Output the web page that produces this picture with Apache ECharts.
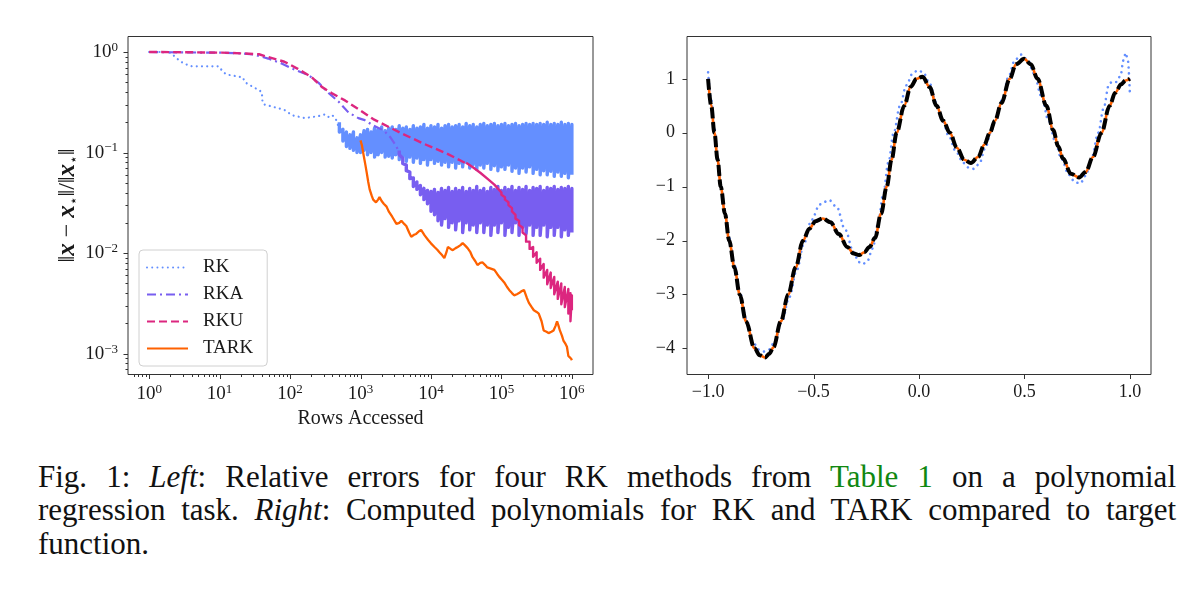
<!DOCTYPE html>
<html>
<head>
<meta charset="utf-8">
<script src="https://cdn.jsdelivr.net/npm/echarts/dist/echarts.min.js"></script>
<style>
  html, body { margin: 0; padding: 0; background: #fff; }
  #chart { position: absolute; left: 0; top: 0; width: 1200px; height: 440px; }
  #caption { position: absolute; left: 38px; top: 460px; width: 1138px;
    font-family: "Liberation Serif", "DejaVu Serif", serif; font-size: 31px; line-height: 33.3px; color: #111; }
  #caption .l { white-space: nowrap; }
  #caption .j { text-align: justify; text-align-last: justify; white-space: normal; }
  #caption .ref { color: #118811; }
</style>
</head>
<body>
<div id="chart"></div>
<div id="caption">
  <div class="l j">Fig. 1: <i>Left</i>: Relative errors for four RK methods from <span class="ref">Table 1</span> on a polynomial</div>
  <div class="l j">regression task. <i>Right</i>: Computed polynomials for RK and TARK compared to target</div>
  <div class="l">function.</div>
</div>
<script>
// ---- left panel: relative error vs rows accessed (rows stored as log10) ----
const rkLogRows = [0, 0.28, 0.33, 0.37, 0.45, 0.55, 0.61, 0.80, 0.99, 1.03, 1.09, 1.20, 1.33, 1.36, 1.45, 1.55, 1.60, 1.61, 1.64, 1.80, 1.92, 2.03, 2.21, 2.30, 2.40, 2.50, 2.55, 2.60, 2.65, 2.69];
const rkErr = [1.0, 1.0, 0.95, 0.89, 0.80, 0.74, 0.72, 0.72, 0.72, 0.66, 0.60, 0.58, 0.56, 0.50, 0.46, 0.42, 0.40, 0.31, 0.30, 0.28, 0.265, 0.235, 0.22, 0.225, 0.23, 0.24, 0.225, 0.235, 0.215, 0.18];

// noisy plateau of RK: top / bottom of the band at each sample
const rkBandLogRows = [2.70, 2.75, 2.80, 2.85, 2.90, 2.95, 3.00, 3.05, 3.10, 3.15, 3.20, 3.25, 3.30, 3.35, 3.40, 3.45, 3.50, 3.55, 3.60, 3.65, 3.70, 3.75, 3.80, 3.85, 3.90, 3.95, 4.00, 4.05, 4.10, 4.15, 4.20, 4.25, 4.30, 4.35, 4.40, 4.45, 4.50, 4.55, 4.60, 4.65, 4.70, 4.75, 4.80, 4.85, 4.90, 4.95, 5.00, 5.05, 5.10, 5.15, 5.20, 5.25, 5.30, 5.35, 5.40, 5.45, 5.50, 5.55, 5.60, 5.65, 5.70, 5.75, 5.80, 5.85, 5.90, 5.95, 6.00];
const rkBandHigh = [0.20, 0.17, 0.16, 0.15, 0.16, 0.14, 0.15, 0.165, 0.17, 0.16, 0.175, 0.17, 0.18, 0.165, 0.175, 0.18, 0.17, 0.185, 0.175, 0.18, 0.17, 0.185, 0.175, 0.18, 0.19, 0.175, 0.185, 0.18, 0.19, 0.175, 0.185, 0.19, 0.18, 0.185, 0.19, 0.18, 0.195, 0.185, 0.19, 0.18, 0.19, 0.195, 0.185, 0.19, 0.195, 0.185, 0.19, 0.195, 0.185, 0.19, 0.195, 0.185, 0.19, 0.195, 0.19, 0.195, 0.19, 0.195, 0.19, 0.20, 0.19, 0.195, 0.19, 0.20, 0.19, 0.195, 0.19];
const rkBandLow = [0.16, 0.13, 0.115, 0.11, 0.105, 0.10, 0.10, 0.105, 0.095, 0.10, 0.09, 0.095, 0.10, 0.09, 0.092, 0.088, 0.095, 0.085, 0.09, 0.082, 0.09, 0.08, 0.088, 0.078, 0.085, 0.075, 0.085, 0.078, 0.082, 0.075, 0.08, 0.072, 0.08, 0.07, 0.078, 0.072, 0.08, 0.07, 0.076, 0.068, 0.075, 0.07, 0.078, 0.068, 0.074, 0.066, 0.072, 0.068, 0.075, 0.065, 0.07, 0.062, 0.07, 0.064, 0.072, 0.062, 0.068, 0.06, 0.066, 0.06, 0.065, 0.058, 0.064, 0.058, 0.062, 0.056, 0.06];

const rkaLogRows = [0, 0.5, 1.0, 1.3, 1.5, 1.69, 1.88, 2.06, 2.26, 2.41, 2.55, 2.69, 2.83, 2.97, 3.06, 3.18, 3.33, 3.42, 3.50, 3.55];
const rkaErr = [1.0, 0.99, 0.985, 0.97, 0.94, 0.86, 0.77, 0.67, 0.59, 0.49, 0.39, 0.32, 0.25, 0.22, 0.21, 0.186, 0.166, 0.143, 0.118, 0.10];

const rkaBandLogRows = [3.55, 3.60, 3.65, 3.70, 3.75, 3.80, 3.85, 3.90, 3.95, 4.00, 4.05, 4.10, 4.15, 4.20, 4.25, 4.30, 4.35, 4.40, 4.45, 4.50, 4.55, 4.60, 4.65, 4.70, 4.75, 4.80, 4.85, 4.90, 4.95, 5.00, 5.05, 5.10, 5.15, 5.20, 5.25, 5.30, 5.35, 5.40, 5.45, 5.50, 5.55, 5.60, 5.65, 5.70, 5.75, 5.80, 5.85, 5.90, 5.95, 6.00];
const rkaBandHigh = [0.105, 0.088, 0.075, 0.064, 0.056, 0.051, 0.047, 0.044, 0.042, 0.041, 0.043, 0.040, 0.044, 0.042, 0.045, 0.041, 0.044, 0.042, 0.045, 0.041, 0.044, 0.042, 0.046, 0.042, 0.044, 0.041, 0.045, 0.043, 0.046, 0.042, 0.045, 0.043, 0.046, 0.042, 0.045, 0.043, 0.046, 0.042, 0.045, 0.044, 0.046, 0.042, 0.045, 0.044, 0.046, 0.043, 0.045, 0.044, 0.046, 0.044];
const rkaBandLow = [0.095, 0.078, 0.066, 0.055, 0.046, 0.043, 0.038, 0.034, 0.031, 0.026, 0.024, 0.021, 0.019, 0.022, 0.018, 0.020, 0.017, 0.021, 0.016, 0.020, 0.017, 0.019, 0.016, 0.020, 0.016, 0.019, 0.015, 0.019, 0.016, 0.020, 0.015, 0.018, 0.016, 0.020, 0.015, 0.018, 0.0155, 0.019, 0.015, 0.018, 0.015, 0.019, 0.0145, 0.018, 0.015, 0.018, 0.0145, 0.017, 0.015, 0.016];

const rkuLogRows = [0, 0.5, 1.03, 1.30, 1.56, 1.69, 1.92, 2.11, 2.31, 2.45, 2.59, 2.78, 2.97, 3.18, 3.56, 3.89, 4.22, 4.50];
const rkuErr = [1.0, 0.995, 0.985, 0.97, 0.95, 0.89, 0.80, 0.68, 0.56, 0.45, 0.39, 0.33, 0.27, 0.215, 0.158, 0.123, 0.098, 0.078];

const rkuTailLogRows = [4.50, 4.60, 4.70, 4.80, 4.90, 5.00, 5.05, 5.10, 5.15, 5.20, 5.25, 5.30, 5.35, 5.40, 5.45, 5.50, 5.55, 5.60, 5.65, 5.70, 5.75, 5.80, 5.85, 5.90, 5.95, 5.98, 6.00];
const rkuTailHigh = [0.079, 0.071, 0.063, 0.055, 0.048, 0.040, 0.036, 0.032, 0.028, 0.024, 0.021, 0.018, 0.015, 0.013, 0.0115, 0.0102, 0.0088, 0.0078, 0.0068, 0.0064, 0.0058, 0.0052, 0.0050, 0.0046, 0.0044, 0.0040, 0.0038];
const rkuTailLow = [0.077, 0.069, 0.061, 0.053, 0.046, 0.038, 0.034, 0.030, 0.026, 0.022, 0.019, 0.016, 0.013, 0.011, 0.0092, 0.0080, 0.0068, 0.0057, 0.0049, 0.0045, 0.0039, 0.0035, 0.0031, 0.0029, 0.0025, 0.0021, 0.0027];

const tarkLogRows = [3.00, 3.02, 3.04, 3.07, 3.09, 3.11, 3.13, 3.16, 3.18, 3.22, 3.25, 3.27, 3.30, 3.33, 3.37, 3.40, 3.45, 3.51, 3.55, 3.58, 3.62, 3.65, 3.69, 3.72, 3.76, 3.79, 3.83, 3.86, 3.91, 3.96, 4.00, 4.05, 4.09, 4.12, 4.16, 4.19, 4.22, 4.24, 4.28, 4.31, 4.35, 4.38, 4.42, 4.45, 4.49, 4.52, 4.56, 4.59, 4.63, 4.66, 4.70, 4.73, 4.77, 4.80, 4.85, 4.90, 4.94, 4.97, 5.01, 5.04, 5.08, 5.11, 5.15, 5.18, 5.22, 5.25, 5.29, 5.32, 5.36, 5.39, 5.43, 5.46, 5.50, 5.53, 5.57, 5.60, 5.64, 5.67, 5.71, 5.74, 5.77, 5.79, 5.81, 5.83, 5.86, 5.88, 5.91, 5.93, 5.95, 5.97, 5.99, 6.00];
const tarkErr = [0.132, 0.118, 0.098, 0.075, 0.062, 0.051, 0.043, 0.037, 0.034, 0.032, 0.034, 0.036, 0.033, 0.031, 0.029, 0.026, 0.023, 0.0195, 0.020, 0.021, 0.0195, 0.0186, 0.016, 0.0145, 0.0152, 0.0155, 0.0165, 0.017, 0.015, 0.0135, 0.0125, 0.0115, 0.0108, 0.0102, 0.0095, 0.0089, 0.0102, 0.0115, 0.011, 0.0107, 0.0112, 0.0115, 0.012, 0.0126, 0.0118, 0.0112, 0.0102, 0.0091, 0.0083, 0.0076, 0.0080, 0.0081, 0.0076, 0.0072, 0.0070, 0.0068, 0.0062, 0.0058, 0.0054, 0.0051, 0.0046, 0.0043, 0.0040, 0.0038, 0.0039, 0.0040, 0.0042, 0.0043, 0.0036, 0.0032, 0.0029, 0.0027, 0.0026, 0.0025, 0.0021, 0.0017, 0.00165, 0.0016, 0.00165, 0.0017, 0.0019, 0.0021, 0.0019, 0.0017, 0.0015, 0.00135, 0.00125, 0.00117, 0.00095, 0.00092, 0.00089, 0.00086];

// ---- right panel: fitted polynomials on [-1, 1] ----
const targetX = [-1.00, -0.985, -0.97, -0.955, -0.94, -0.92, -0.90, -0.875, -0.85, -0.82, -0.78, -0.755, -0.73, -0.71, -0.69, -0.655, -0.62, -0.585, -0.55, -0.52, -0.49, -0.456, -0.42, -0.38, -0.34, -0.31, -0.284, -0.26, -0.235, -0.208, -0.18, -0.153, -0.13, -0.106, -0.07, -0.04, -0.011, 0.017, 0.05, 0.083, 0.115, 0.146, 0.18, 0.214, 0.246, 0.28, 0.31, 0.336, 0.36, 0.391, 0.43, 0.46, 0.499, 0.53, 0.562, 0.604, 0.636, 0.66, 0.683, 0.72, 0.759, 0.79, 0.825, 0.865, 0.904, 0.93, 0.959, 0.98, 1.00];
const targetY = [1.00, 0.50, 0.00, -0.50, -1.00, -1.50, -2.00, -2.50, -3.00, -3.50, -4.00, -4.13, -4.17, -4.10, -3.98, -3.50, -3.00, -2.50, -2.00, -1.78, -1.64, -1.59, -1.66, -1.88, -2.12, -2.24, -2.27, -2.22, -2.12, -1.95, -1.50, -1.00, -0.50, 0.00, 0.50, 0.85, 1.00, 1.04, 0.85, 0.50, 0.22, 0.00, -0.28, -0.50, -0.56, -0.45, -0.22, 0.00, 0.22, 0.55, 1.00, 1.27, 1.37, 1.27, 1.00, 0.50, 0.05, -0.25, -0.48, -0.76, -0.83, -0.73, -0.45, 0.00, 0.50, 0.74, 0.90, 0.97, 1.00];
// TARK polynomial sits on the target at this scale
const tarkFitY = targetY;

const rkFitX = [-1.00, -0.985, -0.97, -0.955, -0.94, -0.92, -0.90, -0.875, -0.85, -0.82, -0.785, -0.76, -0.735, -0.71, -0.685, -0.65, -0.615, -0.58, -0.545, -0.51, -0.47, -0.426, -0.39, -0.35, -0.31, -0.285, -0.267, -0.245, -0.22, -0.195, -0.17, -0.145, -0.12, -0.09, -0.06, -0.03, -0.005, 0.02, 0.05, 0.08, 0.11, 0.14, 0.175, 0.21, 0.24, 0.26, 0.285, 0.315, 0.34, 0.365, 0.395, 0.425, 0.455, 0.486, 0.515, 0.545, 0.58, 0.615, 0.645, 0.675, 0.71, 0.74, 0.765, 0.79, 0.82, 0.85, 0.875, 0.90, 0.915, 0.935, 0.955, 0.97, 0.98, 0.99, 1.00];
const rkFitY = [1.12, 0.60, 0.08, -0.45, -0.95, -1.45, -1.95, -2.45, -2.95, -3.45, -3.90, -4.02, -4.06, -4.02, -3.88, -3.50, -3.05, -2.55, -2.05, -1.62, -1.33, -1.25, -1.38, -1.80, -2.22, -2.40, -2.44, -2.38, -2.15, -1.70, -1.15, -0.55, 0.00, 0.50, 0.88, 1.10, 1.16, 1.12, 0.92, 0.57, 0.25, -0.05, -0.35, -0.56, -0.66, -0.67, -0.58, -0.28, 0.00, 0.25, 0.62, 1.05, 1.35, 1.45, 1.35, 1.10, 0.68, 0.22, -0.15, -0.48, -0.78, -0.92, -0.94, -0.80, -0.45, 0.00, 0.45, 0.88, 0.95, 0.94, 1.05, 1.35, 1.48, 1.35, 0.72];

// ticks
const rowsMajorTicks = [1, 10, 100, 1e3, 1e4, 1e5, 1e6];
const errMajorTicks = [1, 0.1, 0.01, 0.001];
const polyXTicks = [-1.0, -0.5, 0.0, 0.5, 1.0];
const polyYTicks = [-4, -3, -2, -1, 0, 1];

const rowsMin = Math.pow(10, -0.3), rowsMax = Math.pow(10, 6.3);
const errMin = 0.00062, errMax = 1.426;

const minorLog = (lo, hi) => {
  const out = [];
  for (let k = -5; k <= 7; k++) for (let d = 2; d <= 9; d++) {
    const v = d * Math.pow(10, k);
    if (v > lo && v < hi) out.push(v);
  }
  return out;
};

const serif = '"Liberation Serif", "DejaVu Serif", serif';
const ink = '#1a1a1a';
const C_RK = '#648FFF', C_RKA = '#785EF0', C_RKU = '#DC267F', C_TARK = '#FE6100';
const pow10 = e => Math.pow(10, e);
const pairs = (xs, ys, fx) => xs.map((x, i) => [fx ? fx(x) : x, ys[i]]);
// noisy band: up to the top then down to the bottom at each sample
const band = (logRows, hi, lo) => logRows.flatMap((e, i) => [[pow10(e), hi[i]], [pow10(e), lo[i]]]);
const minus = s => String(s).replace('-', '\u2212');

function sup10(v) {
  const e = Math.log10(v), r = Math.round(e);
  if (Math.abs(e - r) > 1e-3) return '';
  return '{b|10}{s|' + minus(r) + '}';
}
const supRich = {
  b: { fontFamily: serif, fontSize: 19, color: ink, lineHeight: 22 },
  s: { fontFamily: serif, fontSize: 13, color: ink, lineHeight: 13, verticalAlign: 'top' }
};

function tickMarks(idx, dir, values, ref, len) {
  return {
    type: 'custom', xAxisIndex: idx, yAxisIndex: idx, silent: true, z: 10, clip: false,
    data: values.map(v => dir === 'x' ? [v, ref] : [ref, v]),
    renderItem: (params, api) => {
      const cs = params.coordSys;
      const p = api.coord([api.value(0), api.value(1)]);
      const shape = dir === 'x'
        ? { x1: Math.round(p[0]) + 0.5, y1: cs.y + cs.height, x2: Math.round(p[0]) + 0.5, y2: cs.y + cs.height + len }
        : { x1: cs.x, y1: Math.round(p[1]) + 0.5, x2: cs.x - len, y2: Math.round(p[1]) + 0.5 };
      return { type: 'line', shape, style: { stroke: '#333', lineWidth: 1 } };
    }
  };
}

const chart = echarts.init(document.getElementById('chart'));
const hidden = { show: false };
const nameRich = {
  n: { fontFamily: serif, fontSize: 24, color: ink, lineHeight: 28 },
  bx: { fontFamily: serif, fontSize: 25, fontWeight: 'bold', fontStyle: 'italic', color: ink, lineHeight: 28 },
  sb: { fontFamily: 'DejaVu Sans', fontSize: 14, color: ink, verticalAlign: 'bottom', lineHeight: 20 }
};

const option = {
  animation: false,
  backgroundColor: '#fff',
  grid: [
    { left: 128, top: 36.5, width: 465, height: 338, show: true, borderColor: '#333', borderWidth: 1, outerBoundsMode: 'none' },
    { left: 687, top: 36.5, width: 464, height: 338, show: true, borderColor: '#333', borderWidth: 1, outerBoundsMode: 'none' }
  ],
  xAxis: [
    {
      gridIndex: 0, type: 'log', logBase: 10, min: rowsMin, max: rowsMax,
      axisLine: hidden, axisTick: hidden, splitLine: hidden, minorTick: hidden,
      axisLabel: { formatter: sup10, rich: supRich, margin: 9 },
      name: 'Rows Accessed', nameLocation: 'middle', nameGap: 27,
      nameTextStyle: { fontFamily: serif, fontSize: 20, color: ink }
    },
    {
      gridIndex: 1, type: 'value', min: -1.1, max: 1.1,
      axisLine: hidden, axisTick: hidden, splitLine: hidden,
      axisLabel: {
        margin: 9, fontFamily: serif, fontSize: 18, color: ink,
        formatter: v => Math.abs(v * 2 - Math.round(v * 2)) > 1e-6 ? '' : minus(v.toFixed(1))
      }
    }
  ],
  yAxis: [
    {
      gridIndex: 0, type: 'log', logBase: 10, min: errMin, max: errMax,
      axisLine: hidden, axisTick: hidden, splitLine: hidden, minorTick: hidden,
      axisLabel: { formatter: sup10, rich: supRich, margin: 10 },
      name: '{n|\u2016}{bx|x}{n| \u2212 }{bx|x}{sb|\u22c6}{n|\u2016/\u2016}{bx|x}{sb|\u22c6}{n|\u2016}',
      nameLocation: 'middle', nameGap: 46, nameRotate: 90,
      nameTextStyle: { fontFamily: serif, fontSize: 24, color: ink, rich: nameRich }
    },
    {
      gridIndex: 1, type: 'value', min: -4.485, max: 1.785,
      axisLine: hidden, axisTick: hidden, splitLine: hidden,
      axisLabel: {
        margin: 12, fontFamily: serif, fontSize: 18, color: ink,
        formatter: v => Math.abs(v - Math.round(v)) > 1e-6 ? '' : minus(Math.round(v))
      }
    }
  ],
  legend: {
    data: ['RK', 'RKA', 'RKU', 'TARK'],
    orient: 'vertical', left: 139, top: 250,
    itemWidth: 41, itemHeight: 16, itemGap: 8,
    padding: [8, 14, 8, 7],
    backgroundColor: 'rgba(255,255,255,0.85)', borderColor: '#d0d0d0', borderWidth: 1, borderRadius: 4,
    itemStyle: { opacity: 0 },
    textStyle: { fontFamily: serif, fontSize: 19, color: ink, padding: [0, 0, 0, 10] },
    selectedMode: false
  },
  series: [
    { name: 'RK', type: 'line', xAxisIndex: 0, yAxisIndex: 0, symbol: 'none', silent: true,
      data: pairs(rkLogRows, rkErr, pow10),
      lineStyle: { color: C_RK, width: 2.2, type: [0.01, 5.2], cap: 'round' }, itemStyle: { color: C_RK } },
    { name: 'RK', type: 'line', xAxisIndex: 0, yAxisIndex: 0, symbol: 'none', silent: true,
      data: band(rkBandLogRows, rkBandHigh, rkBandLow),
      lineStyle: { color: C_RK, width: 3.4, join: 'round' }, itemStyle: { color: C_RK } },
    { name: 'RKA', type: 'line', xAxisIndex: 0, yAxisIndex: 0, symbol: 'none', silent: true,
      data: pairs(rkaLogRows, rkaErr, pow10),
      lineStyle: { color: C_RKA, width: 2.2, type: [9, 4, 2, 4] }, itemStyle: { color: C_RKA } },
    { name: 'RKA', type: 'line', xAxisIndex: 0, yAxisIndex: 0, symbol: 'none', silent: true,
      data: band(rkaBandLogRows, rkaBandHigh, rkaBandLow),
      lineStyle: { color: C_RKA, width: 3.4, join: 'round' }, itemStyle: { color: C_RKA } },
    { name: 'RKU', type: 'line', xAxisIndex: 0, yAxisIndex: 0, symbol: 'none', silent: true,
      data: pairs(rkuLogRows, rkuErr, pow10),
      lineStyle: { color: C_RKU, width: 2.4, type: [8, 4] }, itemStyle: { color: C_RKU } },
    { name: 'RKU', type: 'line', xAxisIndex: 0, yAxisIndex: 0, symbol: 'none', silent: true,
      data: band(rkuTailLogRows, rkuTailHigh, rkuTailLow),
      lineStyle: { color: C_RKU, width: 2.4, join: 'round' }, itemStyle: { color: C_RKU } },
    { name: 'TARK', type: 'line', xAxisIndex: 0, yAxisIndex: 0, symbol: 'none', silent: true,
      data: pairs(tarkLogRows, tarkErr, pow10),
      lineStyle: { color: C_TARK, width: 2.3 }, itemStyle: { color: C_TARK } },

    { name: 'RK fit', type: 'line', xAxisIndex: 1, yAxisIndex: 1, symbol: 'none', silent: true,
      data: pairs(rkFitX, rkFitY), smooth: 0.35, smoothMonotone: 'x',
      lineStyle: { color: C_RK, width: 2.6, type: [0.01, 5.8], cap: 'round' } },
    { name: 'TARK fit', type: 'line', xAxisIndex: 1, yAxisIndex: 1, symbol: 'none', silent: true,
      data: pairs(targetX, tarkFitY), smooth: 0.35, smoothMonotone: 'x',
      lineStyle: { color: C_TARK, width: 2.6 } },
    { name: 'Target', type: 'line', xAxisIndex: 1, yAxisIndex: 1, symbol: 'none', silent: true,
      data: pairs(targetX, targetY), smooth: 0.35, smoothMonotone: 'x',
      lineStyle: { color: '#000', width: 4, type: [11, 3.5] } },

    tickMarks(0, 'x', rowsMajorTicks, 0.1, 4.5),
    tickMarks(0, 'x', minorLog(rowsMin, rowsMax), 0.1, 2.5),
    tickMarks(0, 'y', errMajorTicks, 10, 4.5),
    tickMarks(0, 'y', minorLog(errMin, errMax), 10, 2.5),
    tickMarks(1, 'x', polyXTicks, 0, 4.5),
    tickMarks(1, 'y', polyYTicks, 0, 4.5)
  ]
};

chart.setOption(option);
</script>
</body>
</html>
